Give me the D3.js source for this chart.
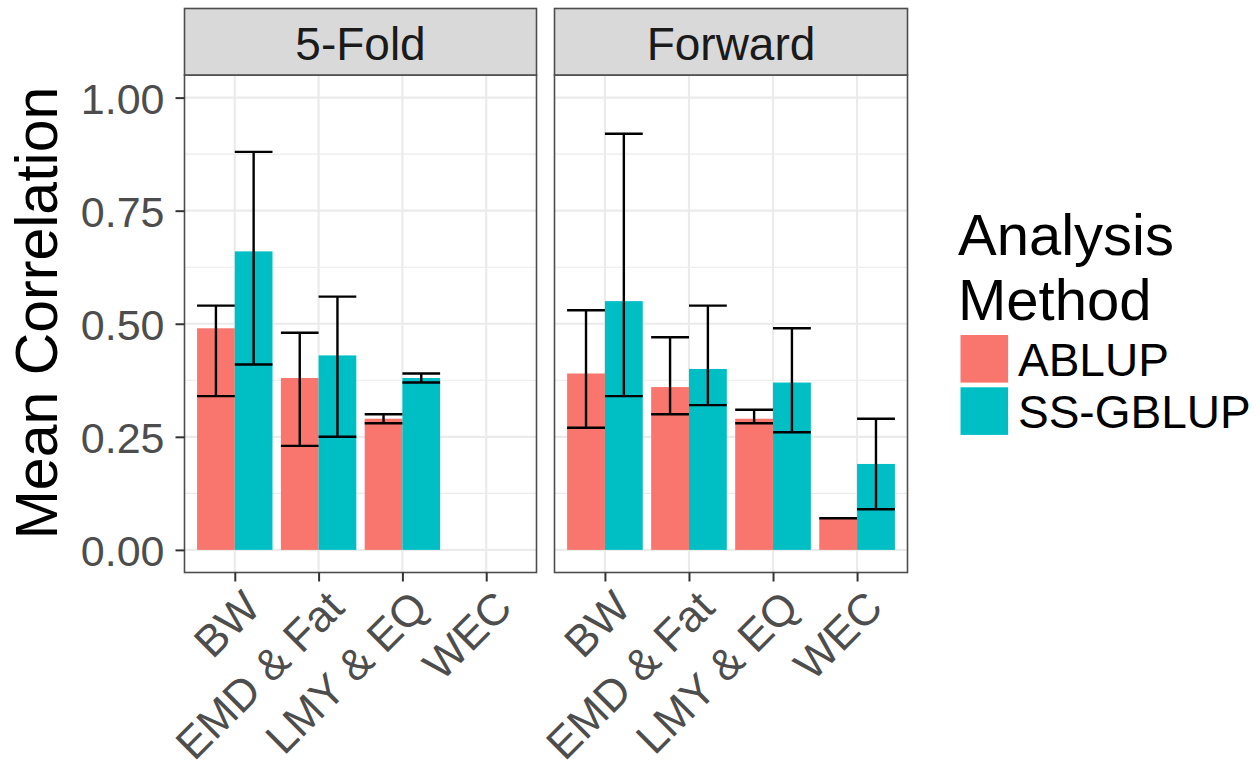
<!DOCTYPE html>
<html><head><meta charset="utf-8">
<script src="https://cdn.jsdelivr.net/npm/d3@7"></script>
<style>body{margin:0;background:#fff}svg{display:block}text{font-family:"Liberation Sans",Arial,sans-serif}</style>
</head><body><svg id="c" width="1260" height="774"></svg>
<script>
const categories = ["BW", "EMD & Fat", "LMY & EQ", "WEC"];
const facets = ["5-Fold", "Forward"];
const methods = ["ABLUP", "SS-GBLUP"];
const colors = ["#F8766D", "#00BFC4"];
const yTicks = [0, 0.25, 0.5, 0.75, 1.0];
const yTickLabels = ["0.00", "0.25", "0.50", "0.75", "1.00"];
// 5-Fold
const foldAblup = [0.49, 0.38, 0.29, null];
const foldAblupLo = [0.34, 0.23, 0.28, null];
const foldAblupHi = [0.54, 0.48, 0.30, null];
const foldSs = [0.66, 0.43, 0.38, null];
const foldSsLo = [0.41, 0.25, 0.37, null];
const foldSsHi = [0.88, 0.56, 0.39, null];
// Forward
const fwdAblup = [0.39, 0.36, 0.29, 0.07];
const fwdAblupLo = [0.27, 0.30, 0.28, 0.07];
const fwdAblupHi = [0.53, 0.47, 0.31, 0.07];
const fwdSs = [0.55, 0.40, 0.37, 0.19];
const fwdSsLo = [0.34, 0.32, 0.26, 0.09];
const fwdSsHi = [0.92, 0.54, 0.49, 0.29];

const series = [
  [[foldAblup, foldAblupLo, foldAblupHi], [foldSs, foldSsLo, foldSsHi]],
  [[fwdAblup, fwdAblupLo, fwdAblupHi], [fwdSs, fwdSsLo, fwdSsHi]]
];

const svg = d3.select("#c");
const panelTop = 75, panelBottom = 572.5, stripTop = 8.5;
const panelX = [[184.5, 536.5], [554.5, 907.5]];
const y = d3.scaleLinear().domain([-0.05, 1.05]).range([panelBottom, panelTop]);
const minor = [0.125, 0.375, 0.625, 0.875];

facets.forEach((f, fi) => {
  const [x0, x1] = panelX[fi];
  const x = d3.scaleLinear().domain([0.4, 4.6]).range([x0, x1]);
  const g = svg.append("g");
  g.append("rect").attr("x", x0).attr("y", panelTop).attr("width", x1 - x0).attr("height", panelBottom - panelTop).attr("fill", "#fff");
  g.selectAll(".mn").data(minor).enter().append("line")
    .attr("x1", x0).attr("x2", x1).attr("y1", d => y(d)).attr("y2", d => y(d))
    .attr("stroke", "#EBEBEB").attr("stroke-width", 1.1);
  g.selectAll(".mj").data(yTicks).enter().append("line")
    .attr("x1", x0).attr("x2", x1).attr("y1", d => y(d)).attr("y2", d => y(d))
    .attr("stroke", "#EBEBEB").attr("stroke-width", 2.2);
  g.selectAll(".vx").data(categories).enter().append("line")
    .attr("x1", (d, i) => x(i + 1)).attr("x2", (d, i) => x(i + 1)).attr("y1", panelTop).attr("y2", panelBottom)
    .attr("stroke", "#EBEBEB").attr("stroke-width", 2.2);
  // bars
  series[fi].forEach((s, mi) => {
    const [vals] = s;
    const off = mi === 0 ? -0.45 : 0;
    categories.forEach((c, ci) => {
      if (vals[ci] == null) return;
      const bx0 = x(ci + 1 + off), bx1 = x(ci + 1 + off + 0.45);
      g.append("rect").attr("x", bx0).attr("width", bx1 - bx0)
        .attr("y", y(vals[ci])).attr("height", y(0) - y(vals[ci])).attr("fill", colors[mi]);
    });
  });
  series[fi].forEach((s, mi) => {
    const [vals, lo, hi] = s;
    const off = mi === 0 ? -0.45 : 0;
    categories.forEach((c, ci) => {
      if (vals[ci] == null) return;
      const bx0 = x(ci + 1 + off), bx1 = x(ci + 1 + off + 0.45), bm = (bx0 + bx1) / 2;
      const p = d3.path();
      p.moveTo(bx0, y(hi[ci])); p.lineTo(bx1, y(hi[ci]));
      p.moveTo(bx0, y(lo[ci])); p.lineTo(bx1, y(lo[ci]));
      p.moveTo(bm, y(hi[ci])); p.lineTo(bm, y(lo[ci]));
      g.append("path").attr("d", p.toString()).attr("stroke", "#000").attr("stroke-width", 2.4).attr("fill", "none");
    });
  });
  g.append("rect").attr("x", x0).attr("y", panelTop).attr("width", x1 - x0).attr("height", panelBottom - panelTop)
    .attr("fill", "none").attr("stroke", "#4D4D4D").attr("stroke-width", 1.6);
  // strip
  g.append("rect").attr("x", x0).attr("y", stripTop).attr("width", x1 - x0).attr("height", panelTop - stripTop)
    .attr("fill", "#D9D9D9").attr("stroke", "#4D4D4D").attr("stroke-width", 1.6);
  g.append("text").attr("x", (x0 + x1) / 2).attr("y", 60).attr("text-anchor", "middle")
    .attr("font-size", 46).attr("fill", "#1A1A1A").text(f);
  // x axis
  const xa = d3.axisBottom(x).tickValues([1, 2, 3, 4]).tickFormat(d => categories[d - 1]).tickSize(9).tickSizeOuter(0);
  const ax = svg.append("g").attr("transform", `translate(0,${panelBottom})`).call(xa);
  ax.select(".domain").remove();
  ax.selectAll(".tick line").attr("stroke", "#333").attr("stroke-width", 2);
  ax.selectAll(".tick text").attr("font-size", 44).attr("fill", "#4D4D4D")
    .attr("text-anchor", "end").attr("y", 0)
    .attr("transform", "translate(5,15) rotate(-45)").attr("dy", "0.72em");
});

// y axis
const ya = d3.axisLeft(y).tickValues(yTicks).tickFormat((d, i) => yTickLabels[i]).tickSize(9).tickSizeOuter(0);
const ay = svg.append("g").attr("transform", `translate(${panelX[0][0]},0)`).call(ya);
ay.select(".domain").remove();
ay.selectAll(".tick line").attr("stroke", "#333").attr("stroke-width", 2);
ay.selectAll(".tick text").attr("font-size", 43).attr("fill", "#4D4D4D").attr("x", -20).attr("dy", "0.36em");

svg.append("text").attr("transform", "translate(57,313) rotate(-90)").attr("text-anchor", "middle")
  .attr("font-size", 59).attr("fill", "#000").text("Mean Correlation");

// legend
const lg = svg.append("g");
lg.append("text").attr("x", 958).attr("y", 255).attr("font-size", 58).attr("fill", "#000").text("Analysis");
lg.append("text").attr("x", 958).attr("y", 320).attr("font-size", 58).attr("fill", "#000").text("Method");
methods.forEach((m, i) => {
  lg.append("rect").attr("x", 960.5).attr("y", 335 + i * 52.3).attr("width", 47.6).attr("height", 47.6).attr("fill", colors[i]);
  lg.append("text").attr("x", 1018).attr("y", 376 + i * 52.3).attr("font-size", 46).attr("fill", "#000").text(m);
});
</script></body></html>
